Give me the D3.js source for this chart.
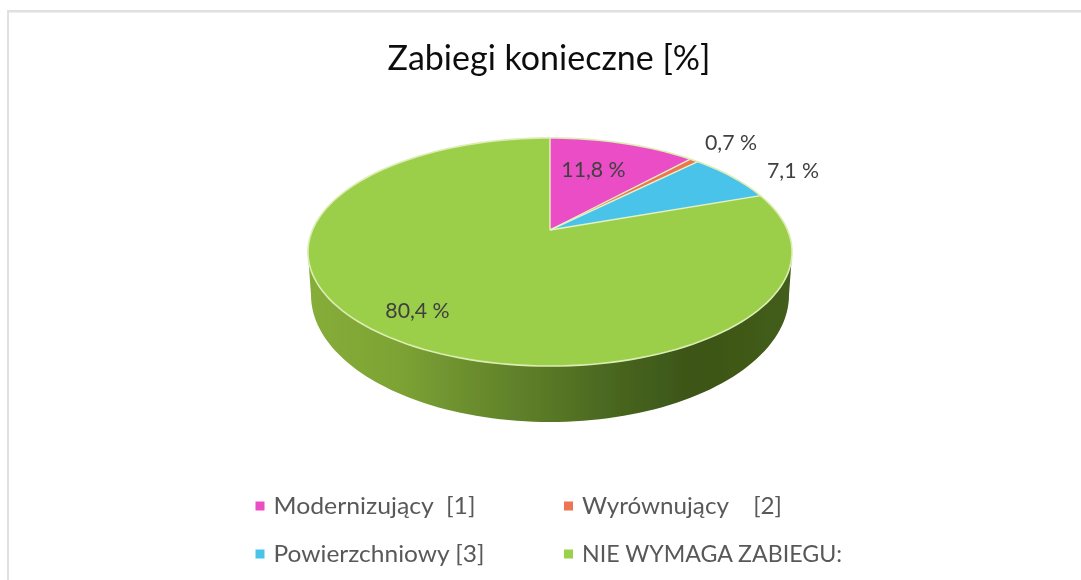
<!DOCTYPE html>
<html lang="pl">
<head>
<meta charset="utf-8">
<script src="https://cdn.jsdelivr.net/npm/d3@7"></script>
<style>
html,body{margin:0;padding:0;background:#fff;overflow:hidden}
svg{display:block}
text{font-family:Lato,"Open Sans",sans-serif;white-space:pre}
</style>
</head>
<body>
<div id="chart"></div>
<script>
const titleText = "Zabiegi konieczne [%]";
const categories = ["Modernizujący  [1]", "Wyrównujący    [2]", "Powierzchniowy [3]", "NIE WYMAGA ZABIEGU:"];
const values = [11.8, 0.7, 7.1, 80.4];
const valueLabels = ["11,8 %", "0,7 %", "7,1 %", "80,4 %"];
const colors = ["#ea4ec5", "#ed7551", "#4ac3ea", "#9ccf4a"];

const W = 1081, H = 580;
const geo = {cx: 550, cy: 230, a: 237.5, b: 109.8, q: 0.193,
             wallCy: 295, wallRx: 239, wallRy: 127};
const labelAt = [[593.5, 170], [731, 143], [793, 171], [417.5, 311]];
const legendAt = [[260, 506], [568.5, 506], [260, 554], [568.5, 554]];
const legendWidth = [202, 200, 211, 260];

const svg = d3.select("#chart").append("svg").attr("width", W).attr("height", H);
const defs = svg.append("defs");

defs.append("filter").attr("id", "soft").append("feGaussianBlur").attr("stdDeviation", 0.5);
defs.append("filter").attr("id", "softText").append("feGaussianBlur").attr("stdDeviation", 0.35);

const wallGrad = defs.append("linearGradient").attr("id", "wall")
  .attr("gradientUnits", "userSpaceOnUse")
  .attr("x1", geo.cx - geo.wallRx).attr("x2", geo.cx + geo.wallRx).attr("y1", 0).attr("y2", 0);
[[0, "#86ad39"], [0.18, "#7da334"], [0.36, "#688a2d"], [0.5, "#587826"],
 [0.66, "#46631e"], [0.8, "#3c5518"], [1, "#435d1a"]]
  .forEach(([o, c]) => wallGrad.append("stop").attr("offset", o).attr("stop-color", c));

// frame
svg.append("rect").attr("x", 7).attr("y", 10).attr("width", W - 7).attr("height", 2.5).attr("fill", "#e0e0e0");
svg.append("rect").attr("x", 7).attr("y", 10).attr("width", 2).attr("height", H - 10).attr("fill", "#e0e0e0");

// title
svg.append("text").attr("x", 549).attr("y", 70).attr("text-anchor", "middle")
  .attr("font-size", 34).attr("fill", "#111").attr("filter", "url(#softText)").text(titleText);

// perspective projection of the pie disc
function project(angle, r) {
  const u = r * Math.sin(angle), v = r * Math.cos(angle), d = 1 + geo.q * v;
  return [geo.cx + geo.a * u / d, geo.cy - geo.b * v / d];
}
const line = d3.line();
const pie = d3.pie().sort(null).startAngle(0).endAngle(2 * Math.PI);
const slices = pie(values);

const chart = svg.append("g").attr("filter", "url(#soft)");

// side wall: lower half of the face rim joined to the lower half of the base ellipse
const faceRim = d3.range(0, 361, 2).map(d => project(d * Math.PI / 180, 1));
const leftIdx = d3.least(faceRim, p => p[0]);
const rightIdx = d3.greatest(faceRim, p => p[0]);
const baseArc = d3.range(0, 181, 2).map(d => {
  const t = d * Math.PI / 180;
  return [geo.cx + geo.wallRx * Math.cos(t), geo.wallCy + geo.wallRy * Math.sin(t)];
});
chart.append("path").attr("fill", "url(#wall)")
  .attr("d", line([rightIdx, ...baseArc, leftIdx]) + "Z");

// top face
chart.selectAll("path.slice").data(slices).join("path").attr("class", "slice")
  .attr("fill", (d, i) => colors[i])
  .attr("stroke", "none")
  .attr("d", d => {
    const n = Math.max(4, Math.ceil((d.endAngle - d.startAngle) * 60));
    const pts = d3.range(n + 1).map(k => project(d.startAngle + (d.endAngle - d.startAngle) * k / n, 1));
    return line([[geo.cx, geo.cy], ...pts]) + "Z";
  });

// pale seams between slices and along the rim
chart.selectAll("path.seam").data(slices).join("path").attr("class", "seam")
  .attr("fill", "none").attr("stroke", "#e4f2c4").attr("stroke-width", 1.4)
  .attr("d", d => line([[geo.cx, geo.cy], project(d.startAngle, 1)]));
chart.append("path").attr("fill", "none").attr("stroke", "#dcedb4").attr("stroke-width", 1.6)
  .attr("d", line(faceRim) + "Z");

// value labels
svg.append("g").attr("filter", "url(#softText)").selectAll("text").data(valueLabels).join("text")
  .attr("x", (d, i) => labelAt[i][0]).attr("y", (d, i) => labelAt[i][1])
  .attr("dy", "0.35em").attr("text-anchor", "middle")
  .attr("font-size", 21.3).attr("fill", "#404040").text(d => d);

// legend
const legend = svg.append("g").selectAll("g").data(categories).join("g")
  .attr("transform", (d, i) => `translate(${legendAt[i][0]},${legendAt[i][1]})`);
legend.append("rect").attr("x", -4.5).attr("y", -4.5).attr("width", 9).attr("height", 9)
  .attr("fill", (d, i) => colors[i]);
legend.append("text").attr("x", 13.5).attr("dy", "0.35em")
  .attr("font-size", 24).attr("fill", "#595959").attr("filter", "url(#softText)")
  .attr("textLength", (d, i) => legendWidth[i]).attr("lengthAdjust", "spacingAndGlyphs")
  .text(d => d);
</script>
</body>
</html>
